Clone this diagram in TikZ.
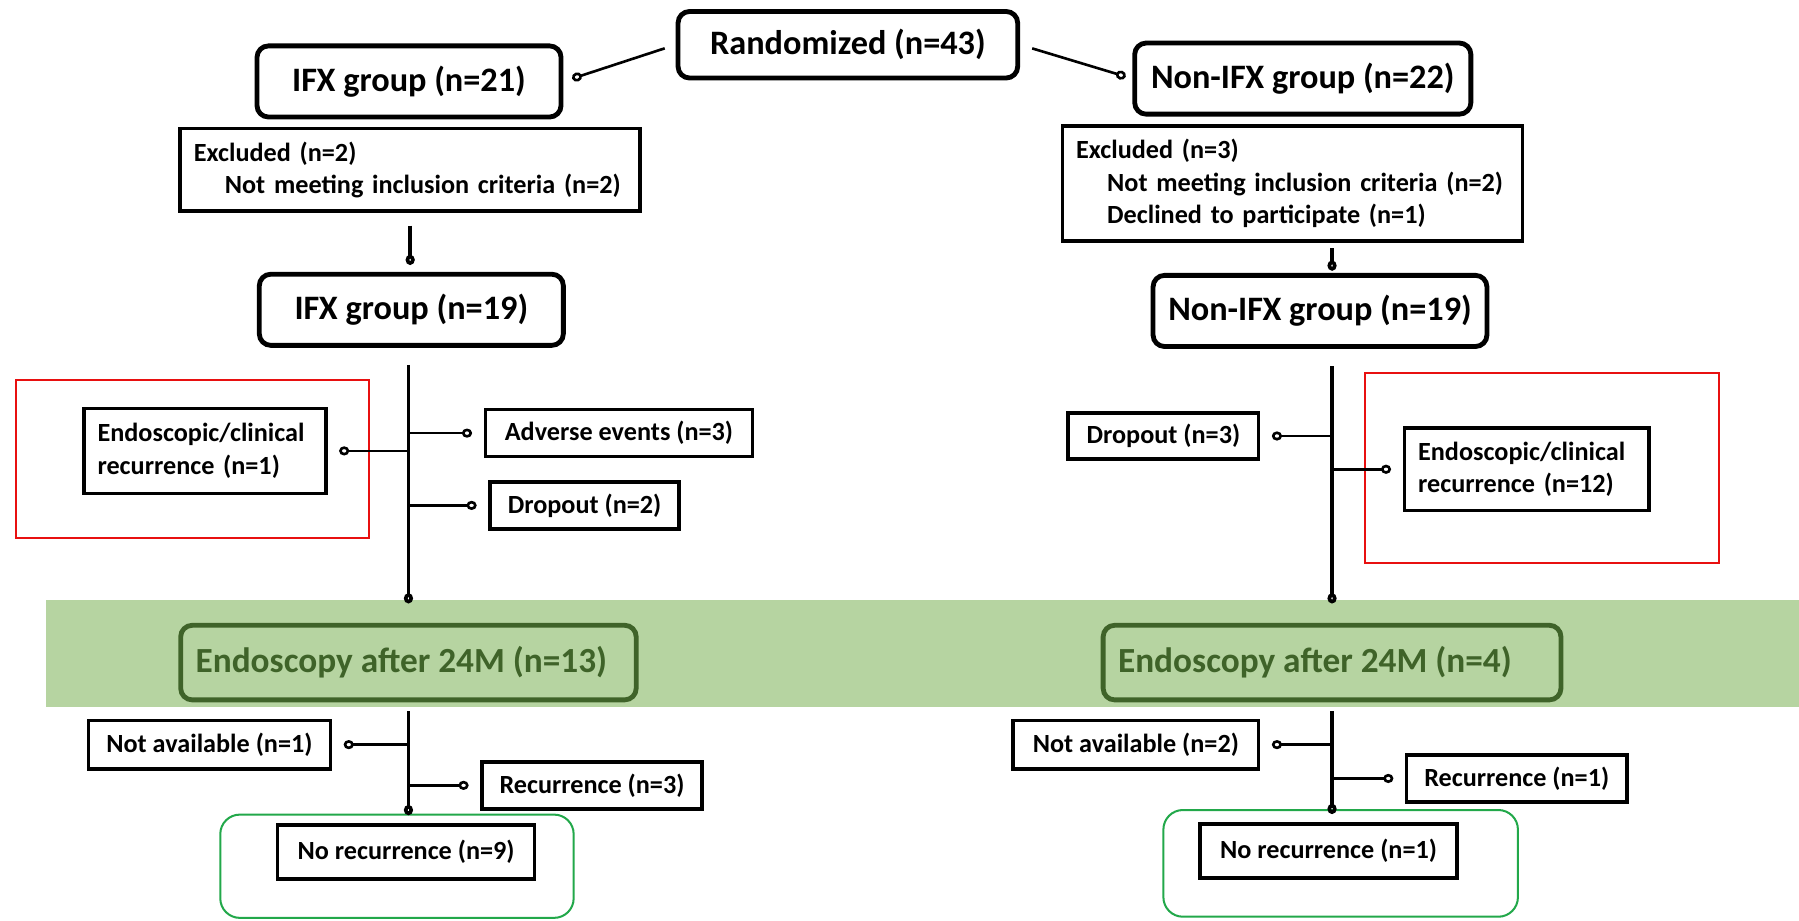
\documentclass[tikz,border=0pt]{standalone}
\usepackage{fontspec}
\setmainfont{Carlito}
\usepackage{tikz}
\usetikzlibrary{arrows.meta, positioning, calc}
\definecolor{bandgreen}{HTML}{B6D4A1}
\definecolor{darkgreen}{HTML}{3F6329}
\definecolor{hlgreen}{HTML}{22A84A}
\definecolor{hlred}{HTML}{E81010}
\newcommand{\grpfont}{\fontsize{17}{20}\selectfont\bfseries}
\newcommand{\scopyfont}{\fontsize{17.5}{20}\selectfont\bfseries}
\newcommand{\boxfont}{\fontsize{13}{16}\selectfont\bfseries}

\begin{document}
\begin{tikzpicture}[
    x=0.2mm, y=-0.2mm,
    grpbox/.style={draw, line width=2.4pt, rounded corners=2mm, font=\grpfont,
                   minimum height=12.4mm, inner sep=1mm},
    box/.style={draw, line width=1.8pt, font=\boxfont, minimum height=8.2mm,
                inner sep=1mm, align=center},
    listbox/.style={draw, line width=1.8pt, font=\boxfont, inner xsep=2.4mm,
                    align=left},
    scopybox/.style={draw=darkgreen, line width=2.4pt, rounded corners=2mm,
                    font=\scopyfont, text=darkgreen, fill=bandgreen,
                    minimum height=13mm, inner xsep=2.6mm, align=flush left},
    arr/.style={-{Circle[open, length=5pt, width=4.5pt]}, line width=1.3pt},
    trunk/.style={arr, line width=1.8pt},
    side/.style={arr, shorten >=2mm},
  ]
    \useasboundingbox (0,0) rectangle (1568,802);
    \fill[bandgreen] (40,523) rectangle (1568,616);

    \node[grpbox, minimum width=59.2mm, minimum height=11.6mm] (rand) at (739,39)
      {Randomized (n=43)};
    \node[grpbox, minimum width=53mm]   (ifxa)  at (356.5,71)  {IFX group (n=21)};
    \node[grpbox, minimum width=58.6mm] (nifxa) at (1135.5,68.5) {Non-IFX group (n=22)};

    \node[listbox, text width=75.4mm, minimum height=14.4mm] (exca) at (357.5,148)
      {Excluded (n=2)\\\hspace*{5.4mm}Not meeting inclusion criteria (n=2)};
    \node[listbox, text width=75.4mm, minimum height=20mm] (excb) at (1126.5,160)
      {Excluded (n=3)\\\hspace*{5.4mm}Not meeting inclusion criteria (n=2)\\
       \hspace*{5.4mm}Declined to participate (n=1)};

    \node[grpbox, minimum width=53mm]   (ifxb)  at (358.5,270) {IFX group (n=19)};
    \node[grpbox, minimum width=58.2mm] (nifxb) at (1150.5,271) {Non-IFX group (n=19)};

    \node[listbox, text width=37.4mm, minimum height=14.8mm] (recl) at (178.5,393)
      {Endoscopic/clinical\\recurrence (n=1)};
    \node[box, minimum width=46.6mm] (adv)   at (539.5,377.5) {Adverse events (n=3)};
    \node[box, minimum width=33mm]   (dropa) at (509.5,440.5) {Dropout (n=2)};
    \node[box, minimum width=33.2mm, minimum height=8mm] (dropb) at (1014,380)
      {Dropout (n=3)};
    \node[listbox, text width=37.8mm, minimum height=14.4mm] (recr) at (1330.5,409)
      {Endoscopic/clinical\\recurrence (n=12)};

    \node[scopybox, text width=74.2mm] (scopya) at (356,577.5) {Endoscopy after 24M (n=13)};
    \node[scopybox, text width=74.6mm] (scopyb) at (1161,577.5) {Endoscopy after 24M (n=4)};

    \node[box, minimum width=42.2mm, minimum height=8.4mm] (naa) at (182.5,649)
      {Not available (n=1)};
    \node[box, minimum width=38.4mm] (reca) at (516,684.5) {Recurrence (n=3)};
    \node[box, minimum width=44.8mm, minimum height=9.4mm] (noa) at (354,742.5)
      {No recurrence (n=9)};
    \node[box, minimum width=42.8mm, minimum height=8.4mm] (nab) at (990,649)
      {Not available (n=2)};
    \node[box, minimum width=38.4mm] (recb) at (1322,678.5) {Recurrence (n=1)};
    \node[box, minimum width=44.8mm, minimum height=9.4mm] (nob) at (1158,741.5)
      {No recurrence (n=1)};

    \draw[hlred, line width=1pt] (14,331) rectangle (322,469);
    \draw[hlred, line width=1pt] (1190,325) rectangle (1498,491);
    \draw[hlgreen, line width=1pt, rounded corners=3.4mm] (192,710) rectangle (500,800);
    \draw[hlgreen, line width=1pt, rounded corners=3.4mm] (1014,706) rectangle (1323,799);

    \draw[arr, shorten <=2mm, shorten >=1.6mm] (rand.west) -- (ifxa.east);
    \draw[arr, shorten <=2.2mm, shorten >=1.2mm] (rand.east) -- (nifxa.west);
    \draw[trunk, shorten <=2.2mm, shorten >=1.2mm] (exca.south) -- (exca.south |- ifxb.north);
    \draw[trunk, shorten <=1mm, shorten >=0.4mm] (excb.south -| scopyb.north) -- (scopyb.north |- nifxb.north);

    \draw[trunk, shorten <=3mm, shorten >=3.4mm] (ifxb.south -| scopya.north) -- (scopya.north);
    \draw[trunk, shorten <=3mm, shorten >=3.4mm] (nifxb.south -| scopyb.north) -- (scopyb.north);
    \draw[side] (recl.east -| scopya.north) -- (recl.east);
    \draw[side] (adv.west -| scopya.north) -- (adv.west);
    \draw[side] (dropa.west -| scopya.north) -- (dropa.west);
    \draw[side] (dropb.east -| scopyb.north) -- (dropb.east);
    \draw[side] (recr.west -| scopyb.north) -- (recr.west);

    \draw[trunk, shorten <=1.6mm, shorten >=1.4mm] (scopya.south) -- (scopya.south |- noa.north);
    \draw[trunk, shorten <=1.6mm, shorten >=1.4mm] (scopyb.south) -- (scopyb.south |- nob.north);
    \draw[side] (naa.east -| scopya.south) -- (naa.east);
    \draw[side] (reca.west -| scopya.south) -- (reca.west);
    \draw[side] (nab.east -| scopyb.south) -- (nab.east);
    \draw[side] (recb.west -| scopyb.south) -- (recb.west);
  \end{tikzpicture}
\end{document}
